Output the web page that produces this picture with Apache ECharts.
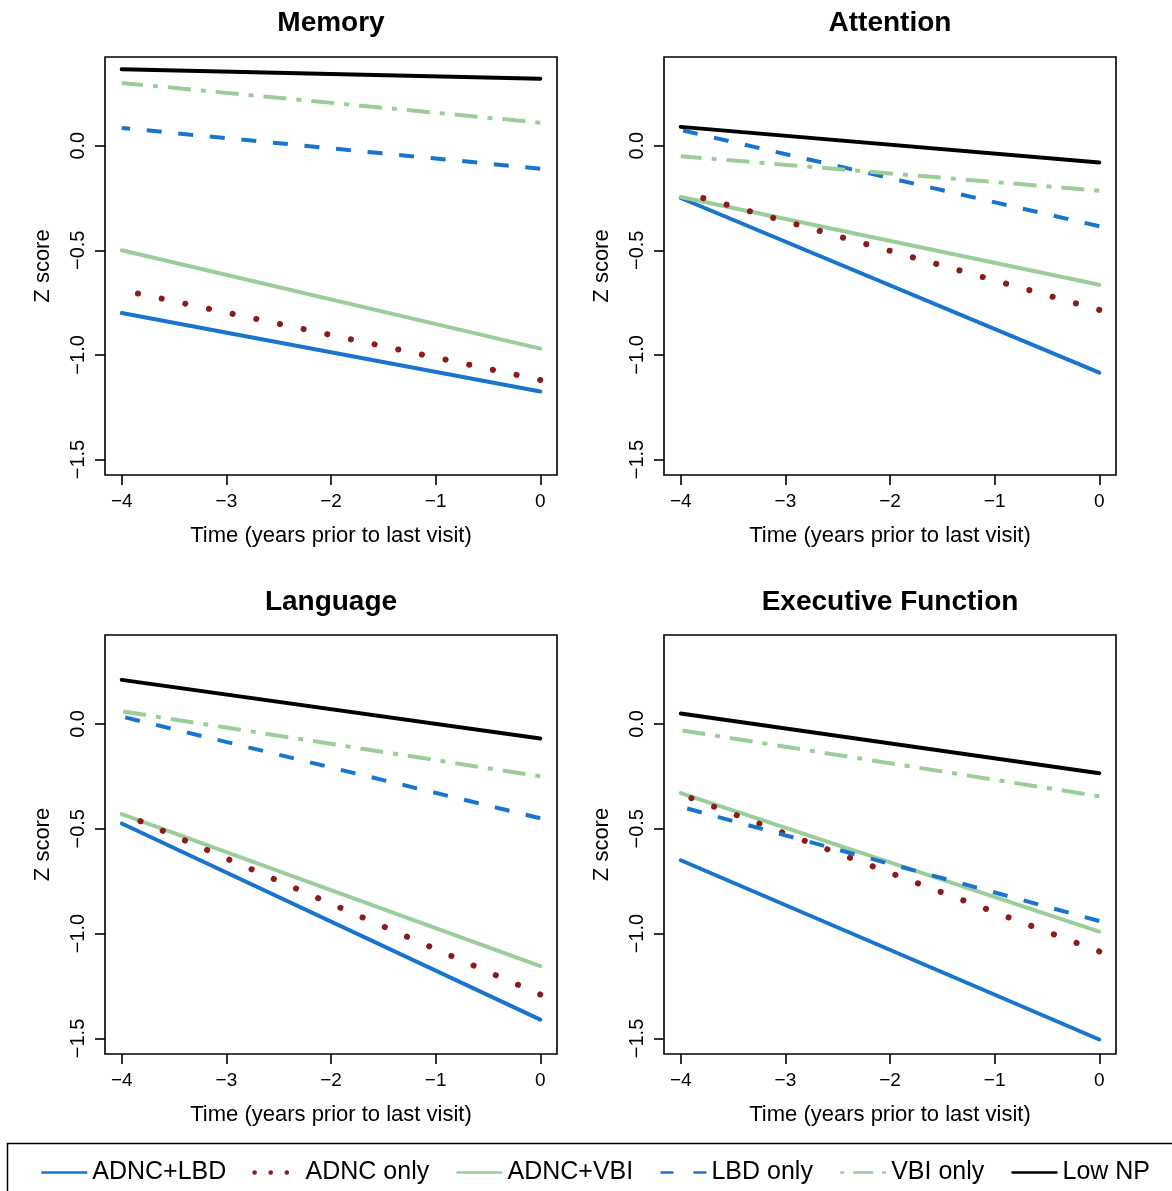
<!DOCTYPE html>
<html>
<head>
<meta charset="utf-8">
<title>Cognitive decline by neuropathology group</title>
<script src="https://cdn.jsdelivr.net/npm/echarts@6/dist/echarts.min.js"></script>
<style>
  html, body { margin: 0; padding: 0; background: #ffffff; }
  #chart { width: 1172px; height: 1191px; }
</style>
</head>
<body>
<div id="chart"></div>
<script>
// Neuropathology groups, in legend order
const groups = ['ADNC+LBD', 'ADNC only', 'ADNC+VBI', 'LBD only', 'VBI only', 'Low NP'];
const domains = ['Memory', 'Attention', 'Language', 'Executive Function'];

// Axis ticks
const yearTicks = [-4, -3, -2, -1, 0];
const zTicks = [-1.5, -1, -0.5, 0];

// Fitted z scores (one value per group): 4 years before last visit, and at last visit
const memoryStart = [-0.80, -0.69, -0.50, 0.085, 0.30, 0.365];
const memoryEnd = [-1.175, -1.12, -0.97, -0.11, 0.11, 0.32];

const attentionStart = [-0.25, -0.22, -0.245, 0.075, -0.05, 0.09];
const attentionEnd = [-1.085, -0.785, -0.665, -0.385, -0.215, -0.08];

const languageStart = [-0.475, -0.425, -0.43, 0.035, 0.06, 0.21];
const languageEnd = [-1.41, -1.29, -1.155, -0.45, -0.25, -0.07];

const executiveStart = [-0.65, -0.335, -0.33, -0.395, -0.03, 0.05];
const executiveEnd = [-1.505, -1.085, -0.99, -0.94, -0.345, -0.235];

const panelStarts = [memoryStart, attentionStart, languageStart, executiveStart];
const panelEnds = [memoryEnd, attentionEnd, languageEnd, executiveEnd];

const FONT = '"Liberation Sans", Arial, Helvetica, sans-serif';
const BLUE = '#1874CD';
const RED = '#8B1A1A';
const GREEN = '#9BCD9B';
const BLACK = '#000000';

// Line look of each group inside the panels
const groupStyles = {
  'ADNC+LBD': { color: BLUE, width: 4, type: 'solid', cap: 'round' },
  'ADNC only': { color: RED, width: 6, type: [0.1, 24.1], cap: 'round' },
  'ADNC+VBI': { color: GREEN, width: 4, type: 'solid', cap: 'round' },
  'LBD only': { color: BLUE, width: 4, type: [15, 16.7], cap: 'butt' },
  'VBI only': { color: GREEN, width: 4, type: [5, 10, 23, 10], cap: 'butt' },
  'Low NP': { color: BLACK, width: 4, type: 'solid', cap: 'round' }
};
// Line look of each group in the legend key
const legendStyles = {
  'ADNC+LBD': { width: 2.5, type: 'solid', cap: 'butt' },
  'ADNC only': { width: 4.5, type: [0.1, 16], cap: 'round' },
  'ADNC+VBI': { width: 2.5, type: 'solid', cap: 'butt' },
  'LBD only': { width: 2.5, type: [13, 20], cap: 'butt' },
  'VBI only': { width: 2.5, type: [4, 9, 20, 9], cap: 'butt' },
  'Low NP': { width: 2.5, type: 'solid', cap: 'butt' }
};
// Stacking: dotted line above the green solid, dashed ones above both
const drawOrder = ['ADNC+LBD', 'ADNC+VBI', 'ADNC only', 'LBD only', 'VBI only', 'Low NP'];

const panelBoxes = [
  { left: 105, top: 57, width: 452, height: 418 },
  { left: 664, top: 57, width: 452, height: 418 },
  { left: 105, top: 635, width: 452, height: 419 },
  { left: 664, top: 635, width: 452, height: 419 }
];
const titleTops = [9, 9, 588, 588];

const minus = (s) => s.replace('-', '\u2212');

const grids = panelBoxes.map((b) => ({
  left: b.left, top: b.top, width: b.width, height: b.height,
  show: true, borderColor: '#000', borderWidth: 1.6, backgroundColor: 'transparent',
  containLabel: false
}));

const xAxes = panelBoxes.map((b, i) => ({
  type: 'value', gridIndex: i, min: -4.16, max: 0.16, position: 'bottom',
  name: 'Time (years prior to last visit)', nameLocation: 'middle', nameGap: 50,
  nameTextStyle: { fontFamily: FONT, fontSize: 22, color: '#000' },
  axisLine: { show: false, onZero: false },
  splitLine: { show: false },
  axisTick: { show: true, customValues: yearTicks, length: 10, inside: false,
              lineStyle: { color: '#000', width: 1.6 } },
  axisLabel: { show: true, customValues: yearTicks, margin: 17,
               fontFamily: FONT, fontSize: 19, color: '#000',
               formatter: (v) => minus(String(v)) }
}));

const yAxes = panelBoxes.map((b, i) => ({
  type: 'value', gridIndex: i, min: -1.574, max: 0.424, position: 'left',
  name: 'Z score', nameLocation: 'middle', nameGap: 51,
  nameTextStyle: { fontFamily: FONT, fontSize: 22, color: '#000' },
  axisLine: { show: false, onZero: false },
  splitLine: { show: false },
  axisTick: { show: true, customValues: zTicks, length: 10, inside: false,
              lineStyle: { color: '#000', width: 1.6 } },
  axisLabel: { show: true, customValues: zTicks, margin: 17, rotate: 90,
               fontFamily: FONT, fontSize: 20, color: '#000',
               formatter: (v) => minus(v.toFixed(1)) }
}));

const titles = domains.map((d, i) => ({
  text: d,
  left: panelBoxes[i].left + panelBoxes[i].width / 2,
  top: titleTops[i],
  textAlign: 'center',
  padding: 0,
  textStyle: { fontFamily: FONT, fontSize: 28, fontWeight: 'bold', color: '#000' }
}));

const series = [];
panelBoxes.forEach((b, p) => {
  drawOrder.forEach((g) => {
    const k = groups.indexOf(g);
    const st = groupStyles[g];
    series.push({
      type: 'line',
      name: g,
      xAxisIndex: p,
      yAxisIndex: p,
      // traced from the last visit back to 4 years before it
      data: [[0, panelEnds[p][k]], [-4, panelStarts[p][k]]],
      symbol: 'none',
      showSymbol: false,
      silent: true,
      color: st.color,
      lineStyle: { color: st.color, width: st.width, type: st.type, cap: st.cap, join: 'round' },
      emphasis: { disabled: true },
      animation: false
    });
  });
});

const legendData = groups.map((g) => ({
  name: g,
  lineStyle: { color: groupStyles[g].color, width: legendStyles[g].width,
               type: legendStyles[g].type, cap: legendStyles[g].cap },
  itemStyle: { opacity: 0 }
}));

const option = {
  backgroundColor: '#ffffff',
  animation: false,
  title: titles,
  grid: grids,
  xAxis: xAxes,
  yAxis: yAxes,
  legend: {
    data: legendData,
    orient: 'horizontal',
    left: 40,
    top: 1160,
    padding: 0,
    itemWidth: 46,
    itemHeight: 14,
    itemGap: 26,
    selectedMode: false,
    itemStyle: { opacity: 0 },
    textStyle: { fontFamily: FONT, fontSize: 25, color: '#000' }
  },
  graphic: [{
    type: 'rect',
    silent: true,
    shape: { x: 7.5, y: 1143.5, width: 1250, height: 120 },
    style: { fill: 'none', stroke: '#000', lineWidth: 1.5 }
  }],
  series: series
};

const chart = echarts.init(document.getElementById('chart'), null, { renderer: 'canvas' });
chart.setOption(option);
</script>
</body>
</html>
